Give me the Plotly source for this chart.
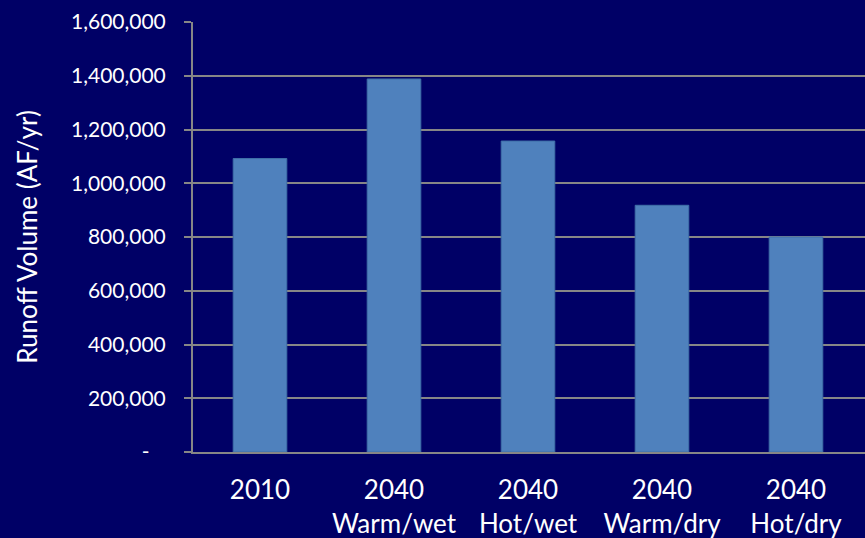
import plotly.graph_objects as go

categories = ["2010", "2040<br>Warm/wet", "2040<br>Hot/wet", "2040<br>Warm/dry", "2040<br>Hot/dry"]
runoff = [1092000, 1388000, 1157000, 918000, 800000]
y_tickvals = [0, 200000, 400000, 600000, 800000, 1000000, 1200000, 1400000, 1600000]
y_ticktext = ["-\u00a0\u00a0\u00a0", "200,000", "400,000", "600,000", "800,000",
              "1,000,000", "1,200,000", "1,400,000", "1,600,000"]

BG = "#000066"
FONT = "Lato"

fig = go.Figure(go.Bar(
    x=list(range(len(categories))), y=runoff,
    width=0.4,
    marker=dict(color="#4F81BD", line=dict(color="#3f6fa8", width=1)),
))

fig.update_layout(
    width=865, height=538,
    paper_bgcolor=BG, plot_bgcolor=BG,
    margin=dict(l=193, r=0, t=22, b=86),
    showlegend=False,
    font=dict(family=FONT, color="white"),
)
fig.update_xaxes(
    tickmode="array", tickvals=list(range(len(categories))), ticktext=categories,
    range=[-0.5, 4.515], showgrid=False, showline=True, linecolor="#868686", linewidth=2,
    tickfont=dict(family=FONT, size=26, color="white"), ticks="", zeroline=False,
    ticklabelstandoff=14,
)
fig.update_yaxes(
    range=[0, 1600000], tickmode="array", tickvals=y_tickvals, ticktext=y_ticktext,
    showgrid=True, gridcolor="#868686", gridwidth=2,
    showline=True, linecolor="#868686", linewidth=2,
    ticks="outside", ticklen=7, tickcolor="#868686", tickwidth=2,
    tickfont=dict(family=FONT, size=21, color="white"), zeroline=False,
    ticklabelstandoff=14,
    title=dict(text="Runoff Volume (AF/yr)", font=dict(family=FONT, size=26, color="white"), standoff=26),
)

fig.write_html(
    "out.html",
    config={"displayModeBar": False},
    post_script="document.body.style.margin='0';document.body.style.overflow='hidden';",
)
